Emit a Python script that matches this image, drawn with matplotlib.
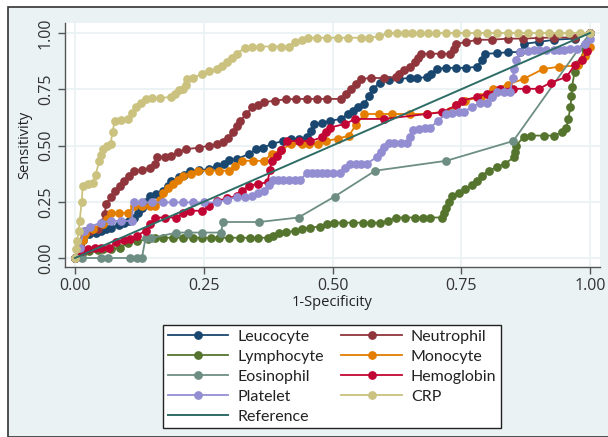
import matplotlib
matplotlib.use("Agg")
import matplotlib.pyplot as plt
from matplotlib.patches import Rectangle

# ROC points (1-specificity, sensitivity)
leucocyte = [(0, 0), (0.005, 0.046), (0.015, 0.08), (0.028, 0.105), (0.04, 0.11), (0.05, 0.12), (0.06, 0.13),
             (0.07, 0.135), (0.085, 0.145), (0.096, 0.157), (0.105, 0.165), (0.114, 0.18), (0.122, 0.2),
             (0.13, 0.224), (0.138, 0.25), (0.145, 0.276), (0.158, 0.285), (0.171, 0.299), (0.18, 0.32),
             (0.186, 0.343), (0.201, 0.358), (0.212, 0.37), (0.224, 0.388), (0.24, 0.39), (0.26, 0.395),
             (0.276, 0.41), (0.29, 0.42), (0.299, 0.435), (0.315, 0.44), (0.337, 0.462), (0.352, 0.484),
             (0.365, 0.49), (0.382, 0.507), (0.404, 0.52), (0.42, 0.53), (0.435, 0.53), (0.45, 0.536),
             (0.458, 0.565), (0.465, 0.596), (0.48, 0.6), (0.495, 0.61), (0.517, 0.618), (0.53, 0.64),
             (0.54, 0.655), (0.55, 0.67), (0.562, 0.685), (0.57, 0.72), (0.578, 0.752), (0.593, 0.78),
             (0.61, 0.79), (0.63, 0.796), (0.65, 0.8), (0.665, 0.8), (0.683, 0.804), (0.692, 0.82),
             (0.702, 0.84), (0.72, 0.845), (0.74, 0.845), (0.76, 0.845), (0.781, 0.85), (0.79, 0.88),
             (0.796, 0.908), (0.82, 0.91), (0.84, 0.915), (0.864, 0.915), (0.872, 0.952), (0.9, 0.96),
             (0.93, 0.97), (0.97, 0.975), (1, 1)]
neutrophil = [(0, 0), (0.01, 0.06), (0.017, 0.105), (0.02, 0.12), (0.03, 0.12), (0.045, 0.13), (0.055, 0.16),
              (0.058, 0.195), (0.06, 0.24), (0.07, 0.27), (0.077, 0.3), (0.087, 0.32), (0.096, 0.343),
              (0.105, 0.365), (0.114, 0.388), (0.13, 0.39), (0.145, 0.4), (0.156, 0.418), (0.16, 0.447),
              (0.175, 0.45), (0.186, 0.455), (0.2, 0.47), (0.216, 0.484), (0.24, 0.49), (0.261, 0.5),
              (0.275, 0.505), (0.288, 0.514), (0.298, 0.535), (0.306, 0.559), (0.315, 0.585), (0.321, 0.61),
              (0.333, 0.64), (0.344, 0.67), (0.355, 0.68), (0.367, 0.692), (0.389, 0.7), (0.41, 0.705),
              (0.43, 0.707), (0.45, 0.707), (0.47, 0.707), (0.49, 0.707), (0.517, 0.707), (0.527, 0.73),
              (0.536, 0.752), (0.545, 0.775), (0.555, 0.796), (0.575, 0.8), (0.6, 0.8), (0.623, 0.804),
              (0.63, 0.82), (0.638, 0.834), (0.65, 0.85), (0.66, 0.871), (0.666, 0.89), (0.672, 0.908),
              (0.69, 0.908), (0.71, 0.908), (0.728, 0.908), (0.735, 0.93), (0.74, 0.952), (0.76, 0.96),
              (0.781, 0.97), (0.81, 0.97), (0.84, 0.975), (0.87, 0.975), (0.9, 0.978), (0.93, 0.98),
              (0.97, 0.98), (1, 1)]
lymphocyte = [(0, 0), (0.013, 0.02), (0.028, 0.03), (0.045, 0.035), (0.054, 0.039), (0.07, 0.04), (0.088, 0.046),
              (0.103, 0.068), (0.12, 0.075), (0.141, 0.083), (0.155, 0.088), (0.171, 0.09), (0.19, 0.09),
              (0.21, 0.09), (0.23, 0.09), (0.246, 0.09), (0.265, 0.09), (0.28, 0.09), (0.299, 0.09),
              (0.32, 0.09), (0.34, 0.09), (0.355, 0.09), (0.374, 0.09), (0.385, 0.1), (0.397, 0.113),
              (0.41, 0.115), (0.427, 0.12), (0.44, 0.13), (0.457, 0.135), (0.475, 0.14), (0.49, 0.15),
              (0.502, 0.157), (0.52, 0.157), (0.54, 0.157), (0.56, 0.157), (0.575, 0.157), (0.593, 0.157),
              (0.608, 0.165), (0.623, 0.18), (0.64, 0.18), (0.66, 0.18), (0.675, 0.18), (0.69, 0.18),
              (0.713, 0.18), (0.716, 0.2), (0.72, 0.224), (0.726, 0.25), (0.732, 0.276), (0.745, 0.29),
              (0.758, 0.306), (0.77, 0.325), (0.781, 0.343), (0.79, 0.365), (0.803, 0.388), (0.82, 0.405),
              (0.834, 0.418), (0.852, 0.447), (0.854, 0.47), (0.856, 0.5), (0.871, 0.536), (0.886, 0.544),
              (0.91, 0.544), (0.931, 0.544), (0.945, 0.56), (0.954, 0.58), (0.958, 0.62), (0.962, 0.67),
              (0.964, 0.72), (0.965, 0.76), (0.97, 0.826), (0.977, 0.863), (0.99, 0.93), (1, 1)]
monocyte = [(0, 0), (0.009, 0.046), (0.015, 0.08), (0.02, 0.105), (0.035, 0.13), (0.054, 0.15), (0.062, 0.175),
            (0.07, 0.2), (0.085, 0.2), (0.103, 0.2), (0.114, 0.232), (0.13, 0.232), (0.145, 0.232),
            (0.156, 0.232), (0.165, 0.26), (0.171, 0.29), (0.18, 0.31), (0.19, 0.328), (0.2, 0.345),
            (0.209, 0.365), (0.225, 0.375), (0.239, 0.388), (0.26, 0.388), (0.28, 0.388), (0.299, 0.388),
            (0.31, 0.41), (0.325, 0.432), (0.345, 0.432), (0.367, 0.432), (0.382, 0.462), (0.4, 0.48),
            (0.42, 0.507), (0.44, 0.507), (0.455, 0.507), (0.472, 0.507), (0.487, 0.52), (0.51, 0.53),
            (0.532, 0.544), (0.545, 0.59), (0.562, 0.64), (0.59, 0.64), (0.615, 0.64), (0.65, 0.64),
            (0.683, 0.64), (0.728, 0.655), (0.74, 0.68), (0.758, 0.7), (0.788, 0.715), (0.811, 0.752),
            (0.84, 0.77), (0.871, 0.796), (0.909, 0.84), (0.94, 0.85), (0.977, 0.856), (0.99, 0.9),
            (1, 0.937), (1, 1)]
eosinophil = [(0, 0), (0.013, 0), (0.05, 0), (0.065, 0), (0.107, 0), (0.12, 0), (0.13, 0), (0.137, 0.09),
              (0.148, 0.088), (0.197, 0.113), (0.22, 0.113), (0.247, 0.113), (0.284, 0.113), (0.287, 0.16),
              (0.358, 0.16), (0.434, 0.18), (0.504, 0.273), (0.583, 0.388), (0.721, 0.432), (0.851, 0.52),
              (1, 1)]
hemoglobin = [(0, 0), (0.013, 0.03), (0.025, 0.04), (0.039, 0.046), (0.05, 0.046), (0.066, 0.046), (0.08, 0.07),
              (0.095, 0.08), (0.107, 0.083), (0.12, 0.1), (0.137, 0.12), (0.145, 0.15), (0.156, 0.18),
              (0.175, 0.18), (0.197, 0.18), (0.21, 0.2), (0.224, 0.21), (0.246, 0.21), (0.26, 0.23),
              (0.276, 0.254), (0.295, 0.265), (0.314, 0.276), (0.325, 0.3), (0.337, 0.32), (0.355, 0.33),
              (0.374, 0.336), (0.378, 0.39), (0.382, 0.432), (0.393, 0.455), (0.4, 0.48), (0.412, 0.52),
              (0.435, 0.52), (0.457, 0.52), (0.48, 0.536), (0.488, 0.56), (0.495, 0.58), (0.525, 0.596),
              (0.544, 0.618), (0.6, 0.618), (0.683, 0.64), (0.713, 0.648), (0.74, 0.678), (0.751, 0.7),
              (0.78, 0.715), (0.8, 0.73), (0.826, 0.752), (0.85, 0.752), (0.875, 0.752), (0.901, 0.752),
              (0.924, 0.78), (0.954, 0.804), (0.97, 0.856), (0.985, 0.878), (0.995, 0.92), (1, 1)]
platelet = [(0, 0), (0.009, 0.046), (0.017, 0.12), (0.03, 0.14), (0.05, 0.157), (0.07, 0.165), (0.09, 0.165),
            (0.11, 0.165), (0.114, 0.247), (0.13, 0.247), (0.15, 0.247), (0.17, 0.247), (0.19, 0.247),
            (0.21, 0.247), (0.23, 0.247), (0.25, 0.247), (0.276, 0.247), (0.295, 0.26), (0.314, 0.27),
            (0.33, 0.27), (0.344, 0.276), (0.355, 0.29), (0.367, 0.3), (0.376, 0.325), (0.385, 0.347),
            (0.395, 0.347), (0.404, 0.347), (0.415, 0.347), (0.428, 0.347), (0.437, 0.347), (0.45, 0.377),
            (0.46, 0.377), (0.47, 0.377), (0.48, 0.377), (0.49, 0.377), (0.5, 0.377), (0.515, 0.377),
            (0.525, 0.4), (0.534, 0.42), (0.545, 0.42), (0.556, 0.42), (0.567, 0.42), (0.587, 0.45),
            (0.595, 0.47), (0.6, 0.492), (0.61, 0.51), (0.62, 0.51), (0.633, 0.51), (0.645, 0.51),
            (0.65, 0.54), (0.656, 0.57), (0.667, 0.575), (0.68, 0.58), (0.69, 0.58), (0.705, 0.61),
            (0.72, 0.64), (0.732, 0.645), (0.745, 0.65), (0.755, 0.65), (0.77, 0.67), (0.786, 0.69),
            (0.8, 0.69), (0.81, 0.715), (0.82, 0.74), (0.833, 0.74), (0.845, 0.74), (0.85, 0.8),
            (0.853, 0.84), (0.856, 0.878), (0.864, 0.915), (0.88, 0.92), (0.891, 0.924), (0.901, 0.924),
            (0.915, 0.924), (0.93, 0.924), (0.94, 0.924), (0.95, 0.924), (0.962, 0.927), (0.975, 0.93),
            (0.99, 0.95), (1, 0.975), (1, 1)]
crp = [(0, 0), (0.002, 0.04), (0.004, 0.075), (0.007, 0.12), (0.009, 0.165), (0.013, 0.25), (0.015, 0.32),
       (0.025, 0.33), (0.035, 0.335), (0.04, 0.37), (0.047, 0.43), (0.05, 0.46), (0.054, 0.485), (0.062, 0.5),
       (0.069, 0.507), (0.073, 0.56), (0.077, 0.61), (0.09, 0.615), (0.103, 0.618), (0.11, 0.645),
       (0.118, 0.67), (0.128, 0.69), (0.137, 0.707), (0.15, 0.71), (0.165, 0.712), (0.186, 0.715),
       (0.195, 0.73), (0.201, 0.745), (0.21, 0.75), (0.215, 0.77), (0.218, 0.796), (0.23, 0.8),
       (0.246, 0.819), (0.26, 0.83), (0.276, 0.84), (0.285, 0.855), (0.295, 0.87), (0.305, 0.89),
       (0.314, 0.908), (0.33, 0.935), (0.344, 0.94), (0.36, 0.94), (0.382, 0.94), (0.4, 0.94),
       (0.416, 0.94), (0.427, 0.96), (0.44, 0.97), (0.453, 0.979), (0.47, 0.979), (0.49, 0.979),
       (0.51, 0.979), (0.53, 0.979), (0.555, 0.979), (0.57, 0.979), (0.59, 0.985), (0.608, 1.0),
       (0.625, 1), (0.64, 1), (0.655, 1), (0.67, 1), (0.685, 1), (0.7, 1), (0.72, 1), (0.74, 1), (0.76, 1),
       (0.78, 1), (0.8, 1), (0.82, 1), (0.84, 1), (0.86, 1), (0.88, 1), (0.9, 1), (0.92, 1), (0.94, 1),
       (0.96, 1), (0.98, 1), (1, 1)]
reference = [(0, 0), (1, 1)]

curves = [("Leucocyte", leucocyte, "#1a476f"),
          ("Neutrophil", neutrophil, "#90353b"),
          ("Lymphocyte", lymphocyte, "#55752f"),
          ("Monocyte", monocyte, "#e37e00"),
          ("Eosinophil", eosinophil, "#6e8e84"),
          ("Hemoglobin", hemoglobin, "#c10534"),
          ("Platelet", platelet, "#938dd2"),
          ("CRP", crp, "#cac27e")]

ticks = [0, 0.25, 0.5, 0.75, 1]
tick_labels = ["0.00", "0.25", "0.50", "0.75", "1.00"]

bg = "#eaf2f3"
plt.rcParams['font.family'] = ['Open Sans', 'DejaVu Sans']

fig = plt.figure(figsize=(6.08, 4.37), dpi=100, facecolor="white")
W, H = 608, 437
fig.patches.append(Rectangle((8 / W, 0), 1, 1 - 7 / H, transform=fig.transFigure,
                             facecolor=bg, edgecolor="#333333", linewidth=1.2, zorder=-10))

ax = fig.add_axes([65 / W, 1 - 267 / H, 535 / W, 244 / H])
ax.set_zorder(2)
ax.set_facecolor("white")
ax.set_xlim(-10 / 515, 1 + 10 / 515)
ax.set_ylim(-9 / 225, 1 + 10 / 225)

ax.grid(True, color=bg, linewidth=1.3)
ax.set_axisbelow(True)
for s in ["top", "right"]:
    ax.spines[s].set_visible(False)
for s in ["left", "bottom"]:
    ax.spines[s].set_color("#555555")
    ax.spines[s].set_linewidth(1.0)

handles = {}
for name, pts, col in curves:
    xs, ys = zip(*pts)
    h, = ax.plot(xs, ys, color=col, linewidth=1.3, marker="o", markersize=6.3,
                 markeredgewidth=0, label=name)
    handles[name] = h
rx, ry = zip(*reference)
h, = ax.plot(rx, ry, color="#2d6d66", linewidth=1.4, label="Reference")
handles["Reference"] = h

ax.set_xticks(ticks)
ax.set_xticklabels(tick_labels)
ax.set_yticks(ticks)
ax.set_yticklabels(tick_labels, rotation=90, va="center")
ax.tick_params(axis="both", length=5, width=1, color="#555555", labelsize=11.5,
               labelcolor="#333333", pad=3)
ax.set_xlabel("1-Specificity", fontsize=10.5, color="#222222", labelpad=1)
ax.set_ylabel("Sensitivity", fontsize=10.5, color="#222222", labelpad=4)

order = ["Leucocyte", "Lymphocyte", "Eosinophil", "Platelet", "Reference",
         "Neutrophil", "Monocyte", "Hemoglobin", "CRP"]
leg = fig.legend([handles[k] for k in order], order, loc="upper center",
                 bbox_to_anchor=(332 / W, 1 - 317 / H), ncol=2, fontsize=11.5,
                 frameon=True, fancybox=False, edgecolor="#222222", facecolor="white",
                 framealpha=1, handlelength=3.8, handletextpad=0.55, columnspacing=1.1,
                 labelspacing=0.36, borderpad=0.3, markerscale=1.0)
leg.get_frame().set_linewidth(1.0)
for t in leg.get_texts():
    t.set_fontfamily(['Lato', 'DejaVu Sans'])
    t.set_color("#222222")

fig.savefig("out.png", dpi=100, facecolor=fig.get_facecolor())
